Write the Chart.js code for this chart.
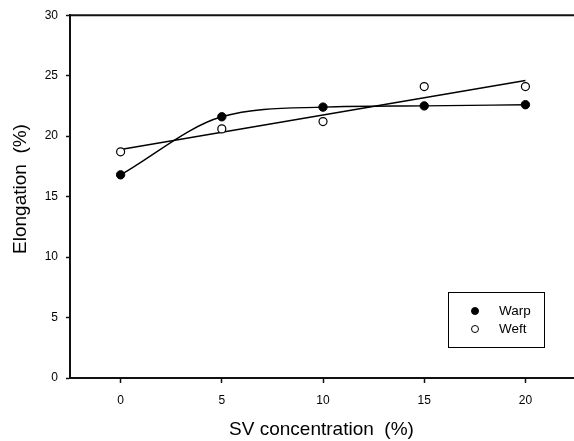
<!DOCTYPE html>
<html>
<head>
<meta charset="utf-8">
<script src="https://cdn.jsdelivr.net/npm/chart.js@4/dist/chart.umd.min.js"></script>
<style>
  html, body { margin: 0; padding: 0; background: #fff; }
  #wrap { width: 574px; height: 441px; }
</style>
</head>
<body>
<div id="wrap"><canvas id="c" width="574" height="441"></canvas></div>
<script>
// ---- data ----
const concentrations = [0, 5, 10, 15, 20];
const warpValues = [16.8, 21.6, 22.4, 22.5, 22.6];
const weftValues = [18.7, 20.6, 21.2, 24.1, 24.1];
const weftFitX = [0, 20];
const weftFitY = [18.9, 24.6];
const xTicks = [0, 5, 10, 15, 20];
const yTicks = [0, 5, 10, 15, 20, 25, 30];
const seriesLabels = ['Warp', 'Weft'];
const xTitle = 'SV concentration  (%)';
const yTitle = 'Elongation  (%)';

const FONT = "'Liberation Sans', Arial, sans-serif";

const toPts = (xs, ys) => xs.map((x, i) => ({ x: x, y: ys[i] }));

const frameTop = {
  id: 'frameTop',
  afterDraw(chart) {
    const { ctx, chartArea: a } = chart;
    ctx.save();
    ctx.strokeStyle = '#111';
    ctx.lineWidth = 2;
    ctx.beginPath();
    ctx.moveTo(a.left - 1, a.top);
    ctx.lineTo(a.right + 1, a.top);
    ctx.stroke();
    ctx.restore();
  }
};

const yTitlePlugin = {
  id: 'yTitlePlugin',
  afterDraw(chart) {
    const { ctx } = chart;
    ctx.save();
    ctx.translate(21, 189);
    ctx.rotate(-Math.PI / 2);
    ctx.font = '19px ' + FONT;
    ctx.fillStyle = '#000';
    ctx.textAlign = 'center';
    ctx.textBaseline = 'middle';
    ctx.fillText(yTitle, 0, 0);
    ctx.restore();
  }
};

const boxLegend = {
  id: 'boxLegend',
  afterDraw(chart) {
    const { ctx } = chart;
    ctx.save();
    ctx.strokeStyle = '#000';
    ctx.lineWidth = 1;
    ctx.strokeRect(448.5, 292.5, 96, 55);
    const rows = [
      { label: seriesLabels[0], fill: '#000', y: 311 },
      { label: seriesLabels[1], fill: '#fff', y: 329 }
    ];
    ctx.font = '13.5px ' + FONT;
    ctx.textBaseline = 'middle';
    ctx.textAlign = 'left';
    rows.forEach(r => {
      ctx.beginPath();
      ctx.arc(475, r.y, 3.5, 0, Math.PI * 2);
      ctx.fillStyle = r.fill;
      ctx.fill();
      ctx.strokeStyle = '#000';
      ctx.lineWidth = 1;
      ctx.stroke();
      ctx.fillStyle = '#000';
      ctx.fillText(r.label, 499, r.y + 0.5);
    });
    ctx.restore();
  }
};

new Chart(document.getElementById('c'), {
  type: 'scatter',
  data: {
    datasets: [
      {
        label: seriesLabels[0],
        data: toPts(concentrations, warpValues),
        showLine: true,
        cubicInterpolationMode: 'monotone',
        borderColor: '#000',
        borderWidth: 1.4,
        pointRadius: 4.2,
        pointBackgroundColor: '#000',
        pointBorderColor: '#000',
        pointBorderWidth: 1,
        order: 1
      },
      {
        label: seriesLabels[1],
        data: toPts(concentrations, weftValues),
        showLine: false,
        pointRadius: 4,
        pointBackgroundColor: '#fff',
        pointBorderColor: '#000',
        pointBorderWidth: 1.2,
        order: 0
      },
      {
        label: 'Weft fit',
        data: toPts(weftFitX, weftFitY),
        showLine: true,
        borderColor: '#000',
        borderWidth: 1.4,
        pointRadius: 0,
        order: 2
      }
    ]
  },
  options: {
    responsive: false,
    animation: false,
    devicePixelRatio: 1,
    layout: { autoPadding: false, padding: { top: 14, right: 1, left: 0, bottom: 0 } },
    plugins: {
      legend: { display: false },
      tooltip: { enabled: false }
    },
    scales: {
      x: {
        type: 'linear',
        min: -2.5,
        max: 22.35,
        afterBuildTicks: s => { s.ticks = xTicks.map(v => ({ value: v })); },
        afterFit: s => { s.height = 63; },
        grid: { drawOnChartArea: false, drawTicks: true, tickLength: 5, color: '#111', tickWidth: 1.5 },
        border: { display: true, color: '#111', width: 2 },
        ticks: { color: '#000', font: { family: FONT, size: 12 }, padding: 10, maxRotation: 0 },
        title: { display: true, text: xTitle, color: '#000', font: { family: FONT, size: 19 }, padding: { top: 0, bottom: 0 } }
      },
      y: {
        type: 'linear',
        min: 0,
        max: 30,
        afterBuildTicks: s => { s.ticks = yTicks.map(v => ({ value: v })); },
        afterFit: s => { s.width = 70; },
        grid: { drawOnChartArea: false, drawTicks: true, tickLength: 4, color: '#111', tickWidth: 1.5 },
        border: { display: true, color: '#111', width: 2 },
        ticks: { color: '#000', font: { family: FONT, size: 12 }, padding: 8 },
        title: { display: false }
      }
    }
  },
  plugins: [frameTop, yTitlePlugin, boxLegend]
});
</script>
</body>
</html>
